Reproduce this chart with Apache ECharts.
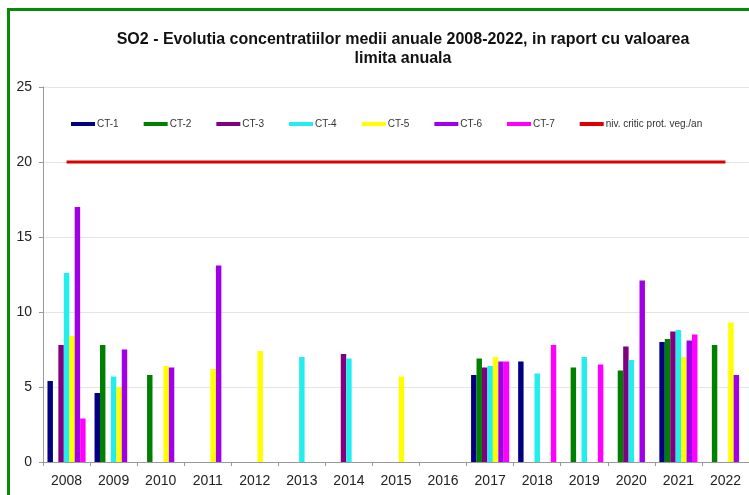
<!DOCTYPE html>
<html>
<head>
<meta charset="utf-8">
<script src="https://cdn.jsdelivr.net/npm/echarts@6/dist/echarts.min.js"></script>
<style>
  html, body { margin: 0; padding: 0; background: #fff; }
  #chart { width: 749px; height: 495px; }
</style>
</head>
<body>
<div id="chart"></div>
<script>
// Years on the category axis
const years = ['2008','2009','2010','2011','2012','2013','2014','2015','2016','2017','2018','2019','2020','2021','2022'];

// Annual mean SO2 per station (null = no measurement that year)
const ct1 = [5.4, 4.6, null, null, null, null, null, null, null, 5.8, 6.7, null, null, 8.0, null];
const ct2 = [null, 7.8, 5.8, null, null, null, null, null, null, 6.9, null, 6.3, 6.1, 8.2, 7.8];
const ct3 = [7.8, null, null, null, null, null, 7.2, null, null, 6.3, null, null, 7.7, 8.7, null];
const ct4 = [12.6, 5.7, null, null, null, 7.0, 6.9, null, null, 6.4, 5.9, 7.0, 6.8, 8.8, null];
const ct5 = [8.4, 5.0, 6.4, 6.2, 7.4, null, null, 5.7, null, 7.0, null, null, null, 7.0, 9.3];
const ct6 = [17.0, 7.5, 6.3, 13.1, null, null, null, null, null, 6.7, null, null, 12.1, 8.1, 5.8];
const ct7 = [2.9, null, null, null, null, null, null, null, null, 6.7, 7.8, 6.5, null, 8.5, null];

// Annual critical level for vegetation protection
const criticalLevel = [20, 20, 20, 20, 20, 20, 20, 20, 20, 20, 20, 20, 20, 20, 20];

const yTicks = { min: 0, max: 25, interval: 5 };

const stations = [
  { name: 'CT-1', data: ct1, color: '#000080' },
  { name: 'CT-2', data: ct2, color: '#008000' },
  { name: 'CT-3', data: ct3, color: '#800080' },
  { name: 'CT-4', data: ct4, color: '#22eeee' },
  { name: 'CT-5', data: ct5, color: '#ffff00' },
  { name: 'CT-6', data: ct6, color: '#a000e8' },
  { name: 'CT-7', data: ct7, color: '#ff00ff' }
];
const limitName = 'niv. critic prot. veg./an';

const font = '"Liberation Sans", Arial, sans-serif';

const series = stations.map(s => ({
  name: s.name,
  type: 'bar',
  data: s.data.map(v => (v === null ? '-' : v)),
  itemStyle: { color: s.color },
  barGap: '0%',
  barCategoryGap: '19%',
  animation: false
}));
series.push({
  name: limitName,
  type: 'line',
  data: criticalLevel,
  symbol: 'none',
  lineStyle: { color: '#dd0000', width: 3 },
  itemStyle: { color: '#dd0000' },
  z: 5,
  animation: false
});

const chart = echarts.init(document.getElementById('chart'), null, { renderer: 'canvas' });
chart.setOption({
  backgroundColor: '#ffffff',
  animation: false,
  title: {
    text: 'SO2 - Evolutia concentratiilor medii anuale 2008-2022, in raport cu valoarea\nlimita anuala',
    left: 398,
    top: 25,
    textAlign: 'center',
    textStyle: { fontFamily: font, fontSize: 16, fontWeight: 'bold', color: '#111', lineHeight: 19 }
  },
  legend: {
    left: 66,
    top: 114,
    icon: 'rect',
    itemWidth: 24,
    itemHeight: 4,
    itemGap: 25,
    textStyle: { fontFamily: font, fontSize: 10, color: '#333', padding: [0, 0, 0, -3] },
    data: stations.map(s => s.name).concat([limitName])
  },
  grid: { left: 43, top: 87, width: 707, height: 375, containLabel: false },
  xAxis: {
    type: 'category',
    data: years,
    axisLine: { lineStyle: { color: '#999' } },
    axisTick: { show: true, length: 4, lineStyle: { color: '#999' } },
    axisLabel: { fontFamily: font, fontSize: 14, color: '#222', margin: 12 }
  },
  yAxis: {
    type: 'value',
    min: yTicks.min,
    max: yTicks.max,
    interval: yTicks.interval,
    axisLine: { show: true, lineStyle: { color: '#999' } },
    axisTick: { show: true, length: 4, lineStyle: { color: '#999' } },
    axisLabel: { fontFamily: font, fontSize: 14, color: '#222', margin: 11 },
    splitLine: { lineStyle: { color: '#e4e4e4' } }
  },
  graphic: [{
    type: 'rect',
    shape: { x: 8.5, y: 9.5, width: 780, height: 520 },
    style: { fill: null, stroke: '#0a8a0a', lineWidth: 3 },
    silent: true,
    z: 100
  }],
  series: series
});
</script>
</body>
</html>
